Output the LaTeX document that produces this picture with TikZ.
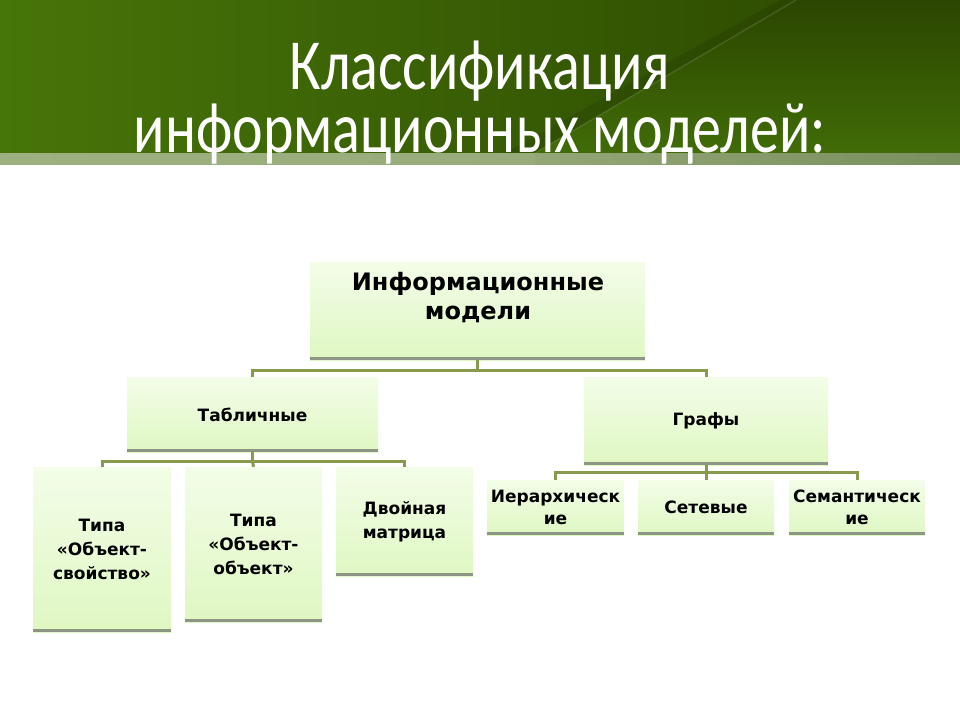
\documentclass[tikz,border=0pt]{standalone}
\usepackage{fontspec}
\setmainfont{DejaVu Sans}
\newfontfamily\titlefont{Carlito}
\usetikzlibrary{calc}
\definecolor{hdrL}{HTML}{467509}
\definecolor{hdrR}{HTML}{2B4600}
\definecolor{stripeL}{HTML}{9DB080}
\definecolor{stripeR}{HTML}{7A8F5E}
\definecolor{boxTop}{HTML}{F3FDE8}
\definecolor{boxBot}{HTML}{DFF7C2}
\definecolor{shadowc}{HTML}{8E9585}
\definecolor{linkc}{HTML}{879A4E}
\newcommand{\tallline}[1]{\smash{\scalebox{1}[1.24]{#1}}}
\tikzset{
  box/.style={rectangle, inner sep=0pt, top color=boxTop, bottom color=boxBot, draw=none, align=center, font=\bfseries\fontsize{17}{24}\selectfont},
  shadowline/.style={draw=shadowc, line width=3pt},
  link/.style={draw=linkc, line width=3pt},
  titletext/.style={text=white, font=\titlefont\fontsize{58}{63}\selectfont, inner sep=0pt, align=center}
}
\begin{document}
\begin{tikzpicture}[x=1pt,y=-1pt]
\useasboundingbox (0,0) rectangle (960,720);
\fill[white] (0,0) rectangle (960,720);
% header
\shade[left color=hdrL, right color=hdrR] (0,0) rectangle (960,153);
\shade[top color=hdrR, bottom color=hdrL!80!hdrR] (796,0) -- (960,0) -- (960,153) -- (535,153) -- cycle;
\fill[black, opacity=0.10] (780,0) -- (796,0) -- (535,153) -- (505,153) -- cycle;
\draw[white, opacity=0.12, line width=1.5pt] (796,0) -- (535,153);
\shade[left color=stripeL, right color=stripeL!85!stripeR] (0,153) rectangle (540,164);
\shade[left color=stripeL!70!stripeR, right color=stripeR] (535,153) rectangle (960,164);
\node[titletext, anchor=base] (title) at (480,152) {\tallline{Классификация}\\\tallline{информационных моделей:}};
% boxes
\node[box, minimum width=335pt, minimum height=98pt] (root) at (477.5,311) {};
\node[align=center, font=\bfseries\fontsize{24}{29}\selectfont, inner sep=0pt] (rootT) at (478,298) {Информационные\\модели};
\node[box, minimum width=251pt, minimum height=75pt] (tab) at (252.5,414.5) {Табличные};
\node[box, minimum width=244pt, minimum height=88pt] (gr) at (706,421) {Графы};
\node[box, minimum width=138pt, minimum height=165pt] (os) at (102,549.5) {Типа\\«Объект-\\свойство»};
\node[box, minimum width=137pt, minimum height=155pt] (oo) at (253.5,544.5) {Типа\\«Объект-\\объект»};
\node[box, minimum width=137pt, minimum height=109pt] (dm) at (404.5,521.5) {Двойная\\матрица};
\node[box, minimum width=137pt, minimum height=55pt, font=\bfseries\fontsize{17}{22}\selectfont] (ie) at (555.5,507.5) {Иерархическ\\ие};
\node[box, minimum width=136pt, minimum height=55pt] (se) at (706,507.5) {Сетевые};
\node[box, minimum width=135pt, minimum height=55pt, font=\bfseries\fontsize{17}{22}\selectfont] (sm) at (857,507.5) {Семантическ\\ие};
% shadows
\foreach \n in {root,tab,gr,os,oo,dm,ie,se,sm}{
  \draw[shadowline] ($(\n.south west)+(0,-1.5)$) -- ($(\n.south east)+(0,-1.5)$);
}
% connectors
\draw[link] (root.south) -- ++(0,10) coordinate (j1);
\draw[link] (tab.north) |- (j1) -| (gr.north);
\draw[link] (tab.south) -- ++(0,9) coordinate (j2);
\draw[link] (os.north) |- (j2) -| (dm.north);
\draw[link] (j2) -- (oo.north);
\draw[link] (gr.south) -- ++(0,7) coordinate (j3);
\draw[link] (ie.north) |- (j3) -| (sm.north);
\draw[link] (j3) -- (se.north);
\end{tikzpicture}
\end{document}
